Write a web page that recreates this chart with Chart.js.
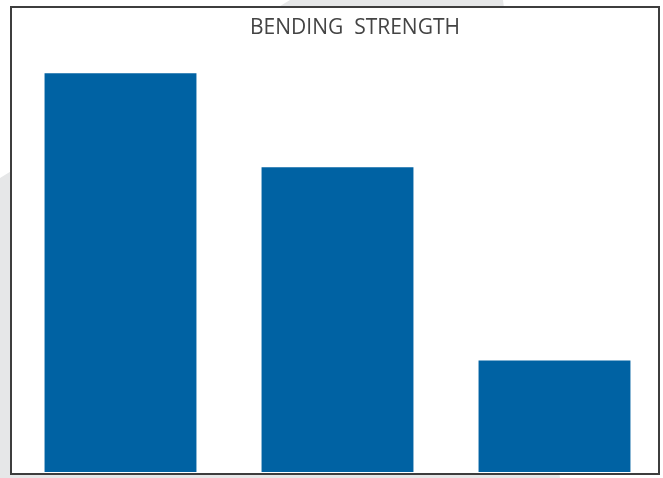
<!DOCTYPE html>
<html>
<head>
<meta charset="utf-8">
<script src="https://cdn.jsdelivr.net/npm/chart.js@4"></script>
<style>
  html, body { margin: 0; padding: 0; background: #fff; }
  #wrap { position: relative; width: 663px; height: 478px; overflow: hidden; }
  #shade {
    position: absolute; left: 0; top: 0; width: 663px; height: 478px;
    background: #e6e7e8;
    clip-path: polygon(290px 0, 503px 0, 560px 478px, 0 478px, 0 178px);
  }
  #frame {
    position: absolute; left: 10px; top: 6px; width: 646px; height: 465px;
    background: #fff; border: 2px solid #3d3d3d;
  }
  #chart { position: absolute; left: 0; top: 0; }
</style>
</head>
<body>
<div id="wrap">
  <div id="shade"></div>
  <div id="frame"></div>
  <canvas id="chart" width="663" height="478"></canvas>
</div>
<script>
const chartTitle = 'BENDING  STRENGTH';
const categories = ['A', 'B', 'C'];
const strengthValues = [94.5, 72.2, 26.4];
const axisMax = 100;

// title sits a bit right of the plot centre in the original, so draw it by hand
const titlePlugin = {
  id: 'offsetTitle',
  afterDraw(chart) {
    const c = chart.ctx;
    c.save();
    c.font = '21px "Open Sans"';
    c.fillStyle = '#444444';
    c.textAlign = 'center';
    c.textBaseline = 'middle';
    c.fillText(chartTitle, 355, 28);
    c.restore();
  },
};

const ctx = document.getElementById('chart').getContext('2d');

new Chart(ctx, {
  type: 'bar',
  data: {
    labels: categories,
    datasets: [
      {
        data: strengthValues,
        backgroundColor: '#0062a3',
        borderWidth: 0,
        barPercentage: 0.7,
        categoryPercentage: 1,
      },
    ],
  },
  options: {
    responsive: false,
    animation: false,
    layout: { padding: { left: 12, right: 0, top: 50, bottom: 6 } },
    plugins: {
      legend: { display: false },
      tooltip: { enabled: false },
      title: { display: false },
    },
    scales: {
      x: { display: false },
      y: { display: false, min: 0, max: axisMax },
    },
  },
  plugins: [titlePlugin],
});
</script>
</body>
</html>
